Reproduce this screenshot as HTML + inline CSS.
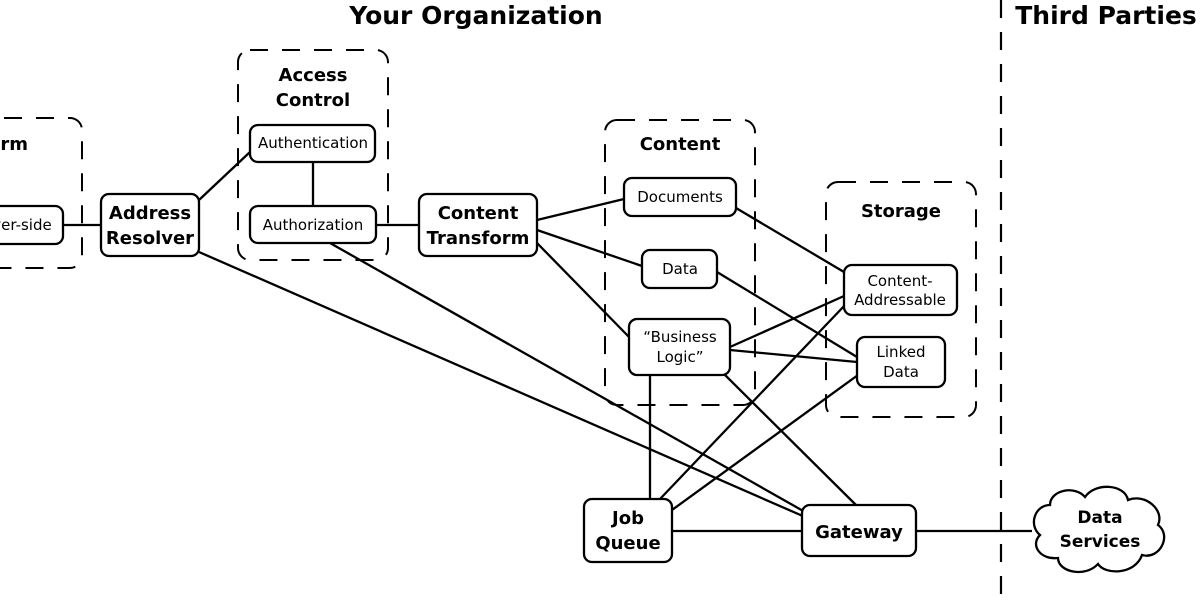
<!DOCTYPE html>
<html><head><style>
html,body{margin:0;padding:0;background:#fff;}
svg{display:block;}
text{font-family:"DejaVu Sans","Liberation Sans",sans-serif;fill:#000;}
.b{font-weight:bold;}
</style></head><body>
<svg width="1200" height="600" viewBox="0 0 1200 600" xmlns="http://www.w3.org/2000/svg">
<g fill="none" stroke="#000" stroke-width="2" stroke-dasharray="18,14">
  <rect x="-40" y="118" width="122" height="150" rx="12"/>
  <rect x="238" y="50" width="150" height="210" rx="12"/>
  <rect x="605" y="120" width="150" height="285" rx="12"/>
  <rect x="826" y="182" width="150" height="235" rx="12"/>
  <line x1="1001" y1="0" x2="1001" y2="600" stroke-width="2.2"/>
</g>
<g stroke="#000" stroke-width="2.3" fill="none">
  <line x1="63" y1="225" x2="101" y2="225"/>
  <line x1="199" y1="200" x2="250" y2="152"/>
  <line x1="313" y1="162" x2="313" y2="206"/>
  <line x1="376" y1="225" x2="419" y2="225"/>
  <line x1="199" y1="252" x2="805" y2="517"/>
  <line x1="330" y1="243" x2="805" y2="512"/>
  <line x1="537" y1="220" x2="624" y2="199"/>
  <line x1="537" y1="230" x2="642" y2="266"/>
  <line x1="537" y1="243" x2="630" y2="338"/>
  <line x1="736" y1="208" x2="844" y2="272"/>
  <line x1="717" y1="272" x2="857" y2="357"/>
  <line x1="730" y1="347" x2="844" y2="296"/>
  <line x1="730" y1="350" x2="857" y2="362"/>
  <line x1="650" y1="375" x2="650" y2="499"/>
  <line x1="724" y1="374" x2="856" y2="505"/>
  <line x1="660" y1="499" x2="846" y2="304"/>
  <line x1="672" y1="510" x2="858" y2="375"/>
  <line x1="672" y1="531" x2="802" y2="531"/>
  <line x1="916" y1="531" x2="1032" y2="531"/>
</g>
<g fill="#fff" stroke="#000" stroke-width="2.3">
  <rect x="-20" y="206" width="83" height="38" rx="8"/>
  <rect x="101" y="194" width="98" height="62" rx="8"/>
  <rect x="250" y="125" width="125" height="37" rx="8"/>
  <rect x="250" y="206" width="126" height="37" rx="8"/>
  <rect x="419" y="194" width="118" height="62" rx="8"/>
  <rect x="624" y="178" width="112" height="38" rx="8"/>
  <rect x="642" y="250" width="75" height="38" rx="8"/>
  <rect x="629" y="319" width="101" height="56" rx="8"/>
  <rect x="844" y="265" width="113" height="50" rx="8"/>
  <rect x="857" y="337" width="88" height="50" rx="8"/>
  <rect x="584" y="499" width="88" height="63" rx="8"/>
  <rect x="802" y="505" width="114" height="51" rx="8"/>
  <path d="M1050,505 C1050,490 1075,485 1085,497 C1095,482 1125,484 1128,500 C1145,493 1165,510 1158,525 C1172,535 1160,560 1142,555 C1135,575 1105,575 1098,564 C1085,578 1058,572 1058,558 C1040,560 1030,545 1040,535 C1028,525 1035,505 1050,505 Z"/>
</g>
<g text-anchor="middle">
  <text class="b" x="476" y="24" font-size="25">Your Organization</text>
  <text class="b" x="1106" y="24" font-size="25">Third Parties</text>
  <text class="b" x="8" y="150" font-size="18">orm</text>
  <text class="b" x="313" y="81" font-size="18">Access</text>
  <text class="b" x="313" y="106" font-size="18">Control</text>
  <text class="b" x="680" y="150" font-size="18">Content</text>
  <text class="b" x="901" y="217" font-size="18">Storage</text>
  <text x="22" y="230" font-size="15">ver-side</text>
  <text class="b" x="150" y="219" font-size="18">Address</text>
  <text class="b" x="150" y="244" font-size="18">Resolver</text>
  <text x="313" y="148" font-size="15">Authentication</text>
  <text x="313" y="230" font-size="15">Authorization</text>
  <text class="b" x="478" y="219" font-size="18">Content</text>
  <text class="b" x="478" y="244" font-size="18">Transform</text>
  <text x="680" y="202" font-size="15">Documents</text>
  <text x="680" y="274" font-size="15">Data</text>
  <text x="680" y="342" font-size="15">“Business</text>
  <text x="680" y="362" font-size="15">Logic”</text>
  <text x="900" y="286" font-size="15">Content-</text>
  <text x="900" y="305" font-size="15">Addressable</text>
  <text x="901" y="357" font-size="15">Linked</text>
  <text x="901" y="377" font-size="15">Data</text>
  <text class="b" x="628" y="524" font-size="18">Job</text>
  <text class="b" x="628" y="549" font-size="18">Queue</text>
  <text class="b" x="859" y="538" font-size="18">Gateway</text>
  <text class="b" x="1100" y="523" font-size="17">Data</text>
  <text class="b" x="1100" y="547" font-size="17">Services</text>
</g>
</svg>
</body></html>
